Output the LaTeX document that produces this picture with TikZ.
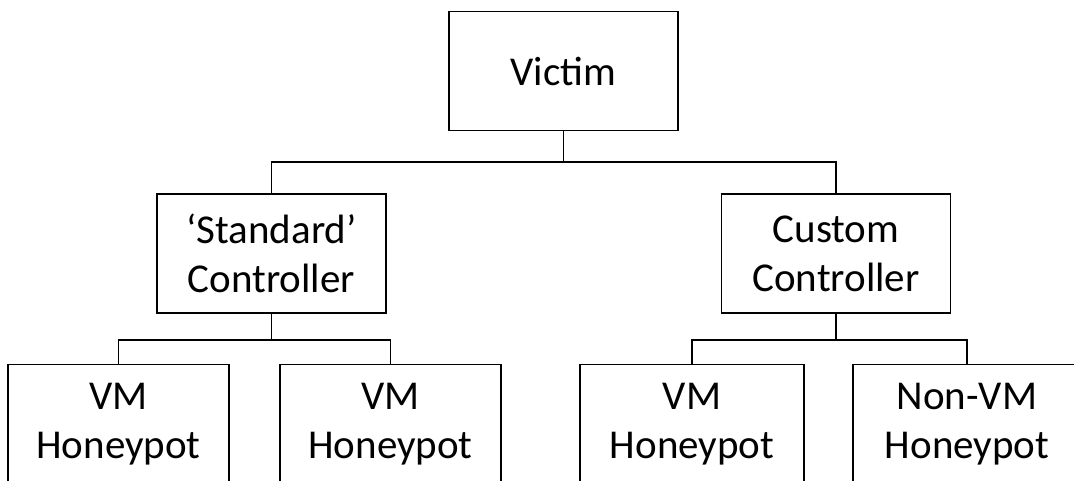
\documentclass[tikz,border=0pt]{standalone}
\usepackage{fontspec}
\setmainfont{Carlito}
\begin{document}
\begin{tikzpicture}[x=1pt,y=-1pt,line width=1.6pt]
\tikzstyle{every node}+=[inner sep=0pt,align=center,font=\fontsize{41}{49}\selectfont]
\tikzstyle{box}=[draw,black,minimum width=229pt,minimum height=119pt]
\useasboundingbox (0,0) rectangle (1074,480);
\clip (0,0) rectangle (1074,480);
% top
\node [box] (victim) at (563.5,71) {Victim};
% controllers
\node [box] (stdctl) at (271.5,253.5) {`Standard'\\Controller};
\node [box] (cusctl) at (836,253.5) {Custom\\Controller};
% honeypots
\node [box,minimum width=221pt] (hp1) at (118.5,424) {VM\\Honeypot};
\node [box,minimum width=221pt] (hp2) at (390.5,424) {VM\\Honeypot};
\node [box,minimum width=224pt] (hp3) at (692,424) {VM\\Honeypot};
\node [box,minimum width=228pt] (hp4) at (967,424) {Non-VM\\Honeypot};
\coordinate (j1) at (563.5,162);
\coordinate (j2) at (271.5,340);
\coordinate (j3) at (836,340);
\draw (victim.south) -- (j1);
\draw (stdctl.north) |- (j1) -| (cusctl.north);
\draw (stdctl.south) -- (j2);
\draw (hp1.north) |- (j2) -| (hp2.north);
\draw (cusctl.south) -- (j3);
\draw (hp3.north) |- (j3) -| (hp4.north);
\end{tikzpicture}
\end{document}
